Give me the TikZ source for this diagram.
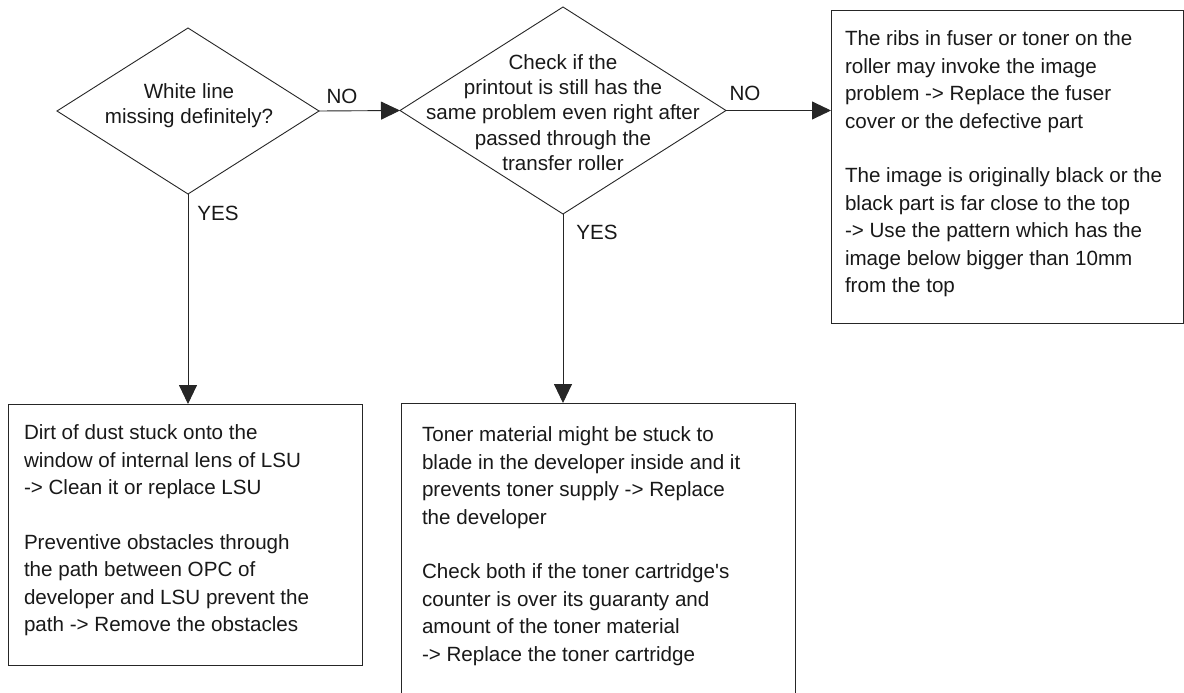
\documentclass[tikz,border=0pt]{standalone}
\usepackage{fontspec}
\setmainfont{Liberation Sans}
\newfontfamily\arialf{Liberation Sans}
\usetikzlibrary{shapes.geometric,arrows.meta}
\begin{document}
\begin{tikzpicture}[x=1pt,y=-1pt,
  every node/.style={inner sep=0pt,outer sep=0pt,text=black!90},
  line/.style={draw=black!85,line width=0.9pt},
  dec/.style={line,diamond},
  box/.style={line,rectangle,anchor=north west},
  txt/.style={font=\arialf\fontsize{20.6}{27.4}\selectfont,align=left,anchor=north west},
  dtxt/.style={font=\arialf\fontsize{20.6}{25.3}\selectfont,align=center},
  lbl/.style={font=\arialf\fontsize{20.6}{25}\selectfont},
  arr/.style={line,-{Triangle[length=19pt,width=18pt]}}]
\clip (0,0) rectangle (1184,693);
\fill[white] (0,0) rectangle (1184,693);
% decisions
\node[dec,minimum width=262pt,minimum height=166pt] (d1) at (188,111) {};
\node[dtxt] (d1t) at (189,106) {White line\\missing definitely?};
\node[dec,minimum width=326pt,minimum height=207pt] (d2) at (563,110.5) {};
\node[dtxt] (d2t) at (563,112.5) {Check if the\\printout is still has the\\same problem even right after\\passed through the\\transfer roller};
% boxes
\node[box,minimum width=352pt,minimum height=313pt] (b3) at (831,10) {};
\node[txt] (b3t) at (845,31) {The ribs in fuser or toner on the\\roller may invoke the image\\problem -> Replace the fuser\\cover or the defective part\\[27.4pt]The image is originally black or the\\black part is far close to the top\\-> Use the pattern which has the\\image below bigger than 10mm\\from the top};
\node[box,minimum width=354pt,minimum height=261pt] (b4) at (8,404) {};
\node[txt] (b4t) at (24,425) {Dirt of dust stuck onto the\\window of internal lens of LSU\\-> Clean it or replace LSU\\[27.4pt]Preventive obstacles through\\the path between OPC of\\developer and LSU prevent the\\path -> Remove the obstacles};
\node[box,minimum width=394pt,minimum height=320pt] (b5) at (401,403) {};
\node[txt] (b5t) at (422,427) {Toner material might be stuck to\\blade in the developer inside and it\\prevents toner supply -> Replace\\the developer\\[27.4pt]Check both if the toner cartridge's\\counter is over its guaranty and\\amount of the toner material\\-> Replace the toner cartridge};
% connectors
\draw[arr] (d1.east) -- (d2.west);
\draw[arr] (d2.east) -- (d2.east -| b3.west);
\draw[arr] (d1.south) -- (d1.south |- b4.north);
\draw[arr] (d2.south) -- (d2.south |- b5.north);
% labels
\node[lbl] (no1) at (342,96) {NO};
\node[lbl] (no2) at (745,93) {NO};
\node[lbl] (yes1) at (218,213) {YES};
\node[lbl] (yes2) at (597,232) {YES};
\end{tikzpicture}
\end{document}
